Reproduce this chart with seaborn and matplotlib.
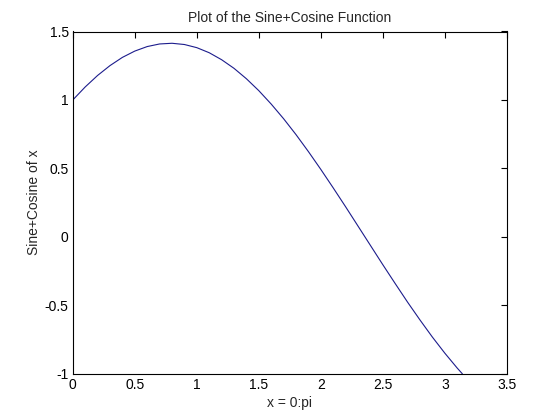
import matplotlib
matplotlib.use("Agg")
import matplotlib.pyplot as plt
import seaborn as sns
import pandas as pd

x_vals = [0.0, 0.1, 0.2, 0.3, 0.4, 0.5, 0.6, 0.7, 0.8, 0.9, 1.0, 1.1, 1.2, 1.3, 1.4, 1.5,
          1.6, 1.7, 1.8, 1.9, 2.0, 2.1, 2.2, 2.3, 2.4, 2.5, 2.6, 2.7, 2.8, 2.9, 3.0, 3.1, 3.1416]
y_vals = [1.000, 1.095, 1.179, 1.251, 1.311, 1.357, 1.390, 1.409, 1.414, 1.405, 1.382, 1.345,
          1.294, 1.231, 1.155, 1.068, 0.970, 0.863, 0.747, 0.623, 0.493, 0.358, 0.220, 0.079,
          -0.062, -0.203, -0.341, -0.477, -0.607, -0.732, -0.849, -0.958, -1.000]
x_ticks = [0, 0.5, 1, 1.5, 2, 2.5, 3, 3.5]
x_tick_labels = ["0", "0.5", "1", "1.5", "2", "2.5", "3", "3.5"]
y_ticks = [-1, -0.5, 0, 0.5, 1, 1.5]
y_tick_labels = ["-1", "-0.5", "0", "0.5", "1", "1.5"]

df = pd.DataFrame({"x": x_vals, "y": y_vals})

sns.set_style("white")
plt.rcParams["font.family"] = ["Liberation Sans", "DejaVu Sans"]
plt.rcParams["xtick.direction"] = "in"
plt.rcParams["ytick.direction"] = "in"

fig = plt.figure(figsize=(5.6, 4.2), dpi=100)
ax = fig.add_axes([0.13, 0.11, 0.775, 0.815])
sns.lineplot(data=df, x="x", y="y", ax=ax, color="#1c1c8c", linewidth=0.8,
             estimator=None, sort=False)

ax.set_xlim(0, 3.5)
ax.set_ylim(-1, 1.5)
ax.set_xticks(x_ticks)
ax.set_xticklabels(x_tick_labels)
ax.set_yticks(y_ticks)
ax.set_yticklabels(y_tick_labels)
ax.tick_params(axis="both", which="both", direction="in", length=4, width=0.8,
               top=True, right=True, labelsize=10, colors="black", pad=3)
for s in ax.spines.values():
    s.set_visible(True)
    s.set_color("black")
    s.set_linewidth(0.8)

ax.set_title("Plot of the Sine+Cosine Function", fontsize=10, pad=7)
ax.set_xlabel("x = 0:pi", fontsize=10, labelpad=3)
ax.set_ylabel("Sine+Cosine of x", fontsize=10, labelpad=3)

fig.savefig("out.png", dpi=100, facecolor="white")
